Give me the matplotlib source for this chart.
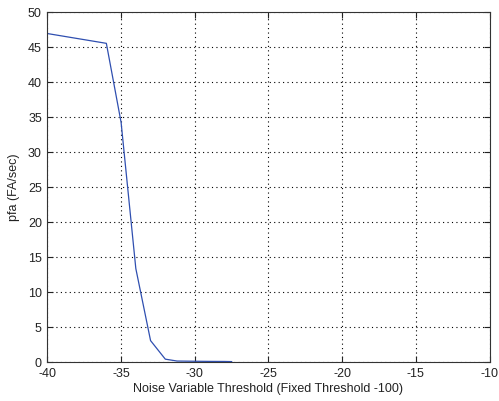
import matplotlib
matplotlib.use("Agg")
import matplotlib.pyplot as plt

x_vals = [-40, -36, -35, -34, -33, -32, -31.2, -30, -29, -28, -27.5]
pfa_vals = [46.9, 45.5, 34.2, 13.3, 3.0, 0.35, 0.08, 0.05, 0.03, 0.02, 0.0]
x_ticks = [-40, -35, -30, -25, -20, -15, -10]
y_ticks = [0, 5, 10, 15, 20, 25, 30, 35, 40, 45, 50]

plt.rcParams['font.family'] = ['Liberation Sans', 'DejaVu Sans']

fig = plt.figure(figsize=(4.99, 4.02), dpi=100)
ax = fig.add_axes([0.095, 0.098, 0.886, 0.870])
ax.plot(x_vals, pfa_vals, color='#2f4fb0', lw=0.9)
ax.set_xlim(-40, -10)
ax.set_ylim(0, 50)
ax.set_xticks(x_ticks)
ax.set_yticks(y_ticks)
ax.set_xticklabels([str(t) for t in x_ticks])
ax.set_yticklabels([str(t) for t in y_ticks])
ax.grid(True, linestyle=(0, (1, 3)), color='black', lw=0.8)
ax.tick_params(direction='in', top=True, right=True, labelsize=9, length=4, width=0.8, pad=4,
               colors='#222222')
for s in ax.spines.values():
    s.set_linewidth(0.8)
    s.set_color('#333333')
ax.set_xlabel('Noise Variable Threshold (Fixed Threshold -100)', fontsize=9, labelpad=2, color='#222222')
ax.set_ylabel('pfa (FA/sec)', fontsize=9, labelpad=6, color='#222222')
fig.savefig('out.png', dpi=100)
